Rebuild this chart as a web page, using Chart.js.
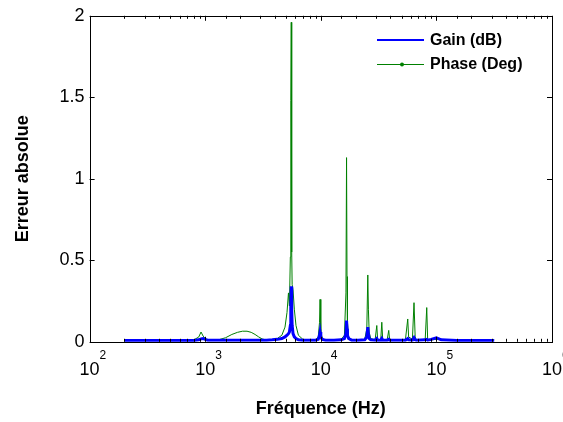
<!DOCTYPE html>
<html>
<head>
<meta charset="utf-8">
<script src="https://cdn.jsdelivr.net/npm/chart.js@4"></script>
<style>
  html, body { margin: 0; padding: 0; background: #fff; }
  #wrap { width: 563px; height: 422px; }
</style>
</head>
<body>
<div id="wrap"><canvas id="erreurChart" width="563" height="422"></canvas></div>
<script>
// Fréquences (Hz) et erreurs absolues
const frequences = [
    200, 300, 450, 600, 800, 880, 920, 960, 1000, 1050,
    1150, 1300, 1500, 1700, 1900, 2100, 2300, 2500, 2700, 2900,
    3100, 3400, 3800, 4200, 4600, 4900, 5100, 5250, 5350, 5450,
    5500, 5550, 5600, 5650, 5750, 5900, 6100, 6400, 7000, 8000,
    9000, 9500, 9750, 9850, 10000, 10300, 11000, 13000, 15000, 16000,
    16500, 16700, 16850, 17000, 17400, 18500, 21000, 24000, 25000, 25500,
    25800, 26200, 27000, 29500, 30500, 31000, 33000, 33700, 34300, 37500,
    38700, 39400, 45000, 54000, 56500, 57500, 62000, 64000, 65500, 67000,
    80000, 82500, 84000, 90000, 100000, 110000, 150000, 200000, 250000, 316000
];
const erreurGain = [
    0.008, 0.008, 0.008, 0.008, 0.008, 0.012, 0.018, 0.02, 0.015, 0.01,
    0.01, 0.01, 0.01, 0.01, 0.01, 0.01, 0.01, 0.01, 0.01, 0.01,
    0.01, 0.01, 0.012, 0.015, 0.02, 0.03, 0.04, 0.05, 0.06, 0.1,
    0.22, 0.34, 0.2, 0.1, 0.05, 0.03, 0.02, 0.012, 0.01, 0.01,
    0.01, 0.015, 0.04, 0.06, 0.03, 0.015, 0.01, 0.01, 0.012, 0.02,
    0.05, 0.13, 0.08, 0.04, 0.02, 0.01, 0.01, 0.012, 0.03, 0.09,
    0.05, 0.02, 0.012, 0.01, 0.02, 0.01, 0.01, 0.02, 0.01, 0.01,
    0.015, 0.01, 0.01, 0.01, 0.02, 0.012, 0.01, 0.025, 0.012, 0.01,
    0.012, 0.015, 0.01, 0.015, 0.025, 0.012, 0.008, 0.008, 0.008, 0.008
];
const erreurPhase = [
    0.012, 0.012, 0.012, 0.012, 0.012, 0.03, 0.06, 0.035, 0.02, 0.012,
    0.01, 0.012, 0.025, 0.045, 0.058, 0.065, 0.065, 0.058, 0.045, 0.03,
    0.018, 0.01, 0.012, 0.02, 0.04, 0.09, 0.18, 0.3, 0.22, 0.52,
    1.48, 1.96, 0.55, 0.35, 0.32, 0.2, 0.1, 0.04, 0.015, 0.01,
    0.012, 0.03, 0.12, 0.26, 0.06, 0.02, 0.01, 0.01, 0.015, 0.04,
    0.3, 1.13, 0.4, 0.12, 0.03, 0.01, 0.01, 0.015, 0.08, 0.41,
    0.2, 0.06, 0.02, 0.012, 0.1, 0.015, 0.012, 0.12, 0.015, 0.012,
    0.07, 0.012, 0.01, 0.015, 0.14, 0.03, 0.015, 0.24, 0.03, 0.012,
    0.015, 0.21, 0.015, 0.012, 0.015, 0.012, 0.012, 0.012, 0.012, 0.012
];
const ticksY = [0, 0.5, 1, 1.5, 2];
const decades = [100, 1000, 10000, 100000, 1000000];
const legende = ["Gain (dB)", "Phase (Deg)"];

const BLEU = "#0000ff";
const VERT = "#008000";
const POLICE = "'Liberation Sans', Arial, sans-serif";

function isDecade(v) {
    const l = Math.log10(v);
    return Math.abs(l - Math.round(l)) < 1e-9;
}

// Cadre, graduations internes, exposants et légende façon Matlab
const cadreMatlab = {
    id: "cadreMatlab",
    afterDraw(chart) {
        const c = chart.ctx;
        const a = chart.chartArea;
        const sx = chart.scales.x;
        const sy = chart.scales.y;
        c.save();
        c.strokeStyle = "#000";
        c.lineWidth = 1;
        c.strokeRect(Math.round(a.left) + 0.5, Math.round(a.top) + 0.5,
            Math.round(a.right - a.left), Math.round(a.bottom - a.top));

        // graduations x (majeures + mineures)
        c.beginPath();
        sx.ticks.forEach(function (t) {
            const px = Math.round(sx.getPixelForValue(t.value)) + 0.5;
            const len = isDecade(t.value) ? 5 : 3;
            c.moveTo(px, a.bottom); c.lineTo(px, a.bottom - len);
            c.moveTo(px, a.top); c.lineTo(px, a.top + len);
        });
        ticksY.forEach(function (v) {
            const py = Math.round(sy.getPixelForValue(v)) + 0.5;
            c.moveTo(a.left, py); c.lineTo(a.left + 5, py);
            c.moveTo(a.right, py); c.lineTo(a.right - 5, py);
        });
        c.stroke();

        // exposants des décades
        c.fillStyle = "#000";
        c.font = "12px " + POLICE;
        c.textAlign = "left";
        c.textBaseline = "top";
        decades.forEach(function (v) {
            const px = sx.getPixelForValue(v);
            c.fillText(String(Math.round(Math.log10(v))), px + 10, a.bottom + 8);
        });

        // légende
        const lx = 377, lx2 = 424;
        const ly = [40, 64];
        c.lineWidth = 2;
        c.strokeStyle = BLEU;
        c.beginPath(); c.moveTo(lx, ly[0]); c.lineTo(lx2, ly[0]); c.stroke();
        c.lineWidth = 1;
        c.strokeStyle = VERT;
        c.beginPath(); c.moveTo(lx, ly[1] + 0.5); c.lineTo(lx2, ly[1] + 0.5); c.stroke();
        c.fillStyle = VERT;
        c.beginPath(); c.arc(402, ly[1] + 0.5, 2, 0, Math.PI * 2); c.fill();
        c.fillStyle = "#000";
        c.font = "bold 16px " + POLICE;
        c.textBaseline = "middle";
        legende.forEach(function (txt, i) {
            c.fillText(txt, 430, ly[i] + 1);
        });
        c.restore();
    }
};

const ctx = document.getElementById("erreurChart");
new Chart(ctx, {
    type: "line",
    data: {
        datasets: [
            {
                label: legende[0],
                data: frequences.map((f, i) => ({ x: f, y: erreurGain[i] })),
                borderColor: BLEU,
                borderWidth: 3,
                pointRadius: 0,
                tension: 0,
                fill: false,
            },
            {
                label: legende[1],
                data: frequences.map((f, i) => ({ x: f, y: erreurPhase[i] })),
                borderColor: VERT,
                borderWidth: 1,
                pointRadius: 0,
                tension: 0,
                fill: false,
            },
        ],
    },
    options: {
        responsive: false,
        animation: false,
        layout: { padding: { top: 15, right: 11, left: 12, bottom: 2 } },
        plugins: {
            legend: { display: false },
            tooltip: { enabled: false },
        },
        scales: {
            x: {
                type: "logarithmic",
                min: 100,
                max: 1000000,
                grid: { display: false },
                border: { display: false },
                afterFit: function (scale) {
                    // le "10^6" déborde à droite comme dans Matlab
                    scale.paddingRight = 0;
                },
                ticks: {
                    autoSkip: false,
                    maxRotation: 0,
                    padding: 9.5,
                    color: "#000",
                    font: { family: POLICE, size: 18 },
                    callback: function (value) {
                        return isDecade(value) ? "10" : "";
                    },
                },
                title: {
                    display: true,
                    text: "Fréquence (Hz)",
                    color: "#000",
                    font: { family: POLICE, size: 18, weight: "bold" },
                    padding: { top: 8, bottom: 0 },
                },
            },
            y: {
                min: 0,
                max: 2,
                grid: { display: false, drawTicks: false },
                border: { display: false },
                afterBuildTicks: function (axis) {
                    axis.ticks = ticksY.map((v) => ({ value: v }));
                },
                ticks: {
                    padding: 5,
                    color: "#000",
                    font: { family: POLICE, size: 18 },
                    callback: function (value) {
                        return String(value);
                    },
                },
                title: {
                    display: true,
                    text: "Erreur absolue",
                    color: "#000",
                    font: { family: POLICE, size: 18, weight: "bold" },
                    padding: { top: 0, bottom: 21 },
                },
            },
        },
    },
    plugins: [cadreMatlab],
});
</script>
</body>
</html>
